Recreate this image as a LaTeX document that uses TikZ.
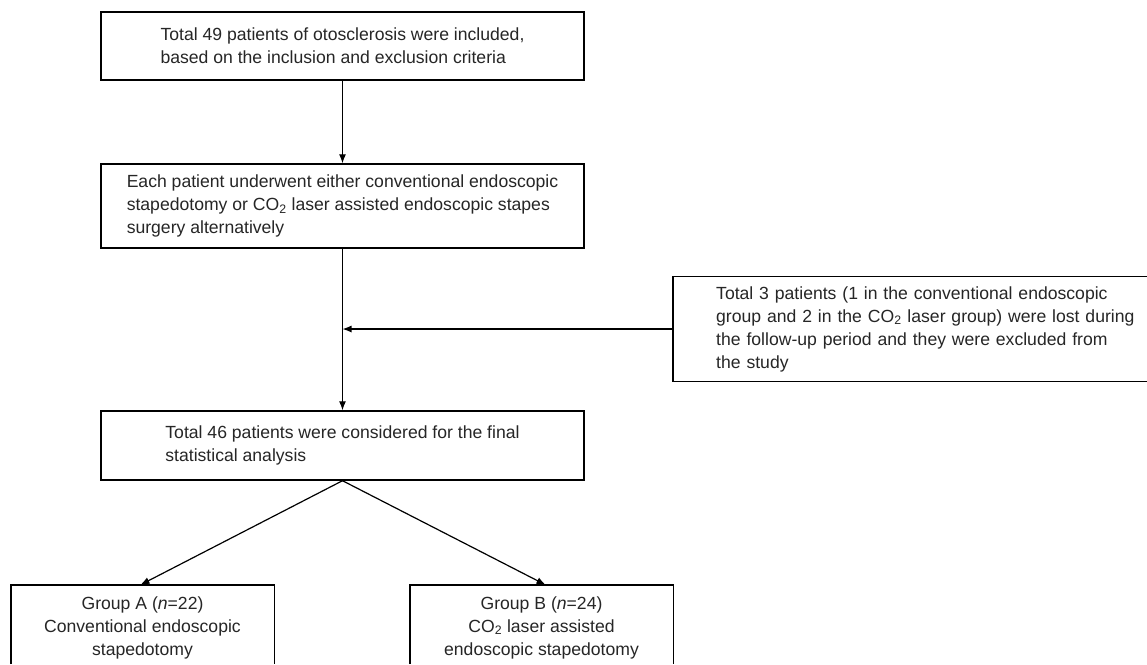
\documentclass[tikz,border=0pt]{standalone}
\usepackage{fontspec}
\setmainfont{Liberation Sans}
\usetikzlibrary{arrows.meta,calc}
\tikzset{
  box/.style={draw, line width=1.4pt, minimum width=483pt, align=left, inner sep=0pt,
    font=\fontsize{17.6}{23}\selectfont, text=black!85},
  openbox/.style={draw=none, align=center, inner sep=0pt,
    font=\fontsize{17.6}{23}\selectfont, text=black!85},
  frame/.style={line width=1.4pt},
  arr/.style={line width=1.2pt, -{Latex[length=9pt,width=7pt]}},
}
\begin{document}
\begin{tikzpicture}[x=1pt,y=-1pt]
\path[use as bounding box, fill=white] (0,0) rectangle (1147,664);
\coordinate (R) at (1147,0);
\coordinate (B) at (0,664);

\node[box, minimum height=68pt] (n1) at (342.5,46)
  {Total 49 patients of otosclerosis were included,\\based on the inclusion and exclusion criteria};
\node[box, minimum height=84pt] (n2) at (342.5,206)
  {Each patient underwent either conventional endoscopic\\stapedotomy or CO\textsubscript{2} laser assisted endoscopic stapes\\surgery alternatively};
\node[box, minimum height=69pt] (n3) at (342.5,445.5)
  {Total 46 patients were considered for the final\\statistical analysis};

\node[openbox, align=left, text width=410pt, minimum height=105pt, inner xsep=43pt,
      anchor=west] (lost) at (673,329)
  {\makebox[410pt][s]{Total 3 patients (1 in the conventional endoscopic}\\
   \makebox[410pt][s]{group and 2 in the CO\textsubscript{2} laser group) were lost during}\\
   \makebox[410pt][s]{the follow-up period and they were excluded from}\\
   the study};
\draw[frame] (R |- lost.north) -- (lost.north west) -- (lost.south west) -- (R |- lost.south);

\node[openbox, minimum width=263pt, minimum height=85pt] (ga) at (142.5,627.5)
  {Group A (\textit{n}=22)\\Conventional endoscopic\\stapedotomy};
\draw[frame] (ga.north west |- B) -- (ga.north west) -- (ga.north east) -- (ga.north east |- B);

\node[openbox, minimum width=263pt, minimum height=85pt] (gb) at (541.5,627.5)
  {Group B (\textit{n}=24)\\CO\textsubscript{2} laser assisted\\endoscopic stapedotomy};
\draw[frame] (gb.north west |- B) -- (gb.north west) -- (gb.north east) -- (gb.north east |- B);

\coordinate (j) at (lost.west -| n3.north);
\draw[arr] (n1.south) -- (n2.north);
\draw[arr] (n2.south) -- (n3.north);
\draw[arr] (lost.west) -- (j);
\draw[arr] (n3.south) -- ($(ga.north)+(-2,0)$);
\draw[arr] (n3.south) -- ($(gb.north)+(4,0)$);
\end{tikzpicture}
\end{document}
